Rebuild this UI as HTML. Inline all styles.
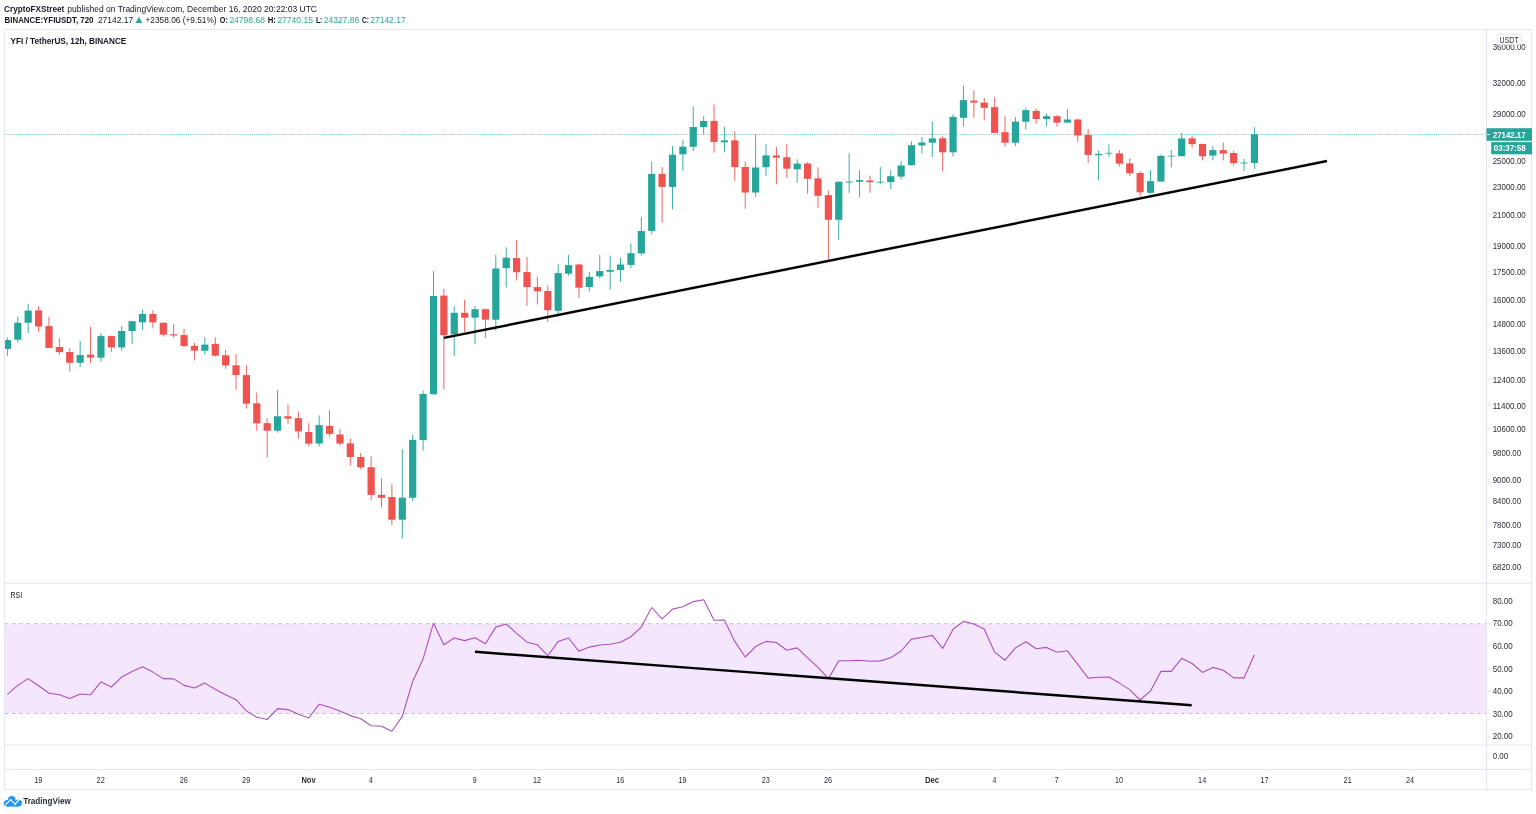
<!DOCTYPE html>
<html lang="en"><head><meta charset="utf-8"><title>YFI / TetherUS, 12h, BINANCE</title>
<style>html,body{margin:0;padding:0;background:#fff;}body{width:1536px;height:814px;overflow:hidden;}svg{display:block;font-family:'Liberation Sans', sans-serif;}</style>
</head><body>
<svg width="1536" height="814" viewBox="0 0 1536 814">
<rect x="0" y="0" width="1536" height="814" fill="#ffffff"/>
<g id="header">
<text x="4.1" y="11.8" font-size="8.6" font-weight="bold" fill="#131722" text-anchor="start" textLength="60.2" lengthAdjust="spacingAndGlyphs">CryptoFXStreet</text>
<text x="67.3" y="11.8" font-size="8.6" font-weight="normal" fill="#131722" text-anchor="start" textLength="249.7" lengthAdjust="spacingAndGlyphs">published on TradingView.com, December 16, 2020 20:22:03 UTC</text>
<text x="4.6" y="22.9" font-size="8.6" font-weight="bold" fill="#131722" text-anchor="start" textLength="88.8" lengthAdjust="spacingAndGlyphs">BINANCE:YFIUSDT, 720</text>
<text x="97.9" y="22.9" font-size="8.6" font-weight="normal" fill="#131722" text-anchor="start" textLength="35.4" lengthAdjust="spacingAndGlyphs">27142.17</text>
<path d="M135.6 22.9 L142.2 22.9 L138.9 16.7 Z" fill="#26a69a"/>
<text x="145.5" y="22.9" font-size="8.6" font-weight="normal" fill="#131722" text-anchor="start" textLength="71.1" lengthAdjust="spacingAndGlyphs">+2358.06 (+9.51%)</text>
<text x="219.8" y="22.9" font-size="8.6" font-weight="bold" fill="#131722" text-anchor="start" textLength="8.0" lengthAdjust="spacingAndGlyphs">O:</text>
<text x="229.4" y="22.9" font-size="8.6" font-weight="normal" fill="#26a69a" text-anchor="start" textLength="35.5" lengthAdjust="spacingAndGlyphs">24798.68</text>
<text x="267.7" y="22.9" font-size="8.6" font-weight="bold" fill="#131722" text-anchor="start" textLength="8.2" lengthAdjust="spacingAndGlyphs">H:</text>
<text x="277.4" y="22.9" font-size="8.6" font-weight="normal" fill="#26a69a" text-anchor="start" textLength="35.5" lengthAdjust="spacingAndGlyphs">27740.15</text>
<text x="315.9" y="22.9" font-size="8.6" font-weight="bold" fill="#131722" text-anchor="start" textLength="6.5" lengthAdjust="spacingAndGlyphs">L:</text>
<text x="323.7" y="22.9" font-size="8.6" font-weight="normal" fill="#26a69a" text-anchor="start" textLength="35.5" lengthAdjust="spacingAndGlyphs">24327.86</text>
<text x="361.9" y="22.9" font-size="8.6" font-weight="bold" fill="#131722" text-anchor="start" textLength="7.0" lengthAdjust="spacingAndGlyphs">C:</text>
<text x="370.2" y="22.9" font-size="8.6" font-weight="normal" fill="#26a69a" text-anchor="start" textLength="35.5" lengthAdjust="spacingAndGlyphs">27142.17</text>
</g>
<rect x="4.5" y="623.7" width="1482.0" height="89.79999999999995" fill="#f4e6fd"/>
<path d="M4.5 623.7 H1486.5 M4.5 713.5 H1486.5" stroke="#c4bdc9" stroke-width="1" stroke-dasharray="3.4 4" fill="none"/>
<g fill="none" stroke="#e4e7ef" stroke-width="1">
<rect x="4.5" y="29.5" width="1527.0" height="760.0"/>
<path d="M1486.5 29.5 V789.5"/>
<path d="M4.5 583.3 H1531.5"/>
<path d="M4.5 745 H1531.5"/>
<path d="M4.5 769.5 H1531.5"/>
</g>
<path d="M4.5 134.5 H1486.5" stroke="#26a69a" stroke-width="1" stroke-dasharray="0.975 0.975" opacity="0.6" fill="none"/>
<g id="candles">
<path d="M7.40 337.5 V355.8" stroke="#26a69a" stroke-width="0.9"/>
<rect x="5.00" y="340.1" width="6.00" height="8.8" fill="#26a69a"/>
<path d="M17.79 316.7 V342.7" stroke="#26a69a" stroke-width="0.9"/>
<rect x="14.19" y="322.8" width="7.20" height="16.9" fill="#26a69a"/>
<path d="M28.18 303.7 V333.0" stroke="#26a69a" stroke-width="0.9"/>
<rect x="24.58" y="310.6" width="7.20" height="12.2" fill="#26a69a"/>
<path d="M38.58 306.3 V331.9" stroke="#ef5350" stroke-width="0.9"/>
<rect x="34.98" y="310.4" width="7.20" height="16.1" fill="#ef5350"/>
<path d="M48.97 316.7 V347.9" stroke="#ef5350" stroke-width="0.9"/>
<rect x="45.37" y="326.1" width="7.20" height="21.8" fill="#ef5350"/>
<path d="M59.36 338.2 V354.7" stroke="#ef5350" stroke-width="0.9"/>
<rect x="55.76" y="347.0" width="7.20" height="5.1" fill="#ef5350"/>
<path d="M69.75 347.9 V371.4" stroke="#ef5350" stroke-width="0.9"/>
<rect x="66.15" y="352.0" width="7.20" height="10.8" fill="#ef5350"/>
<path d="M80.14 341.0 V367.1" stroke="#26a69a" stroke-width="0.9"/>
<rect x="76.54" y="355.1" width="7.20" height="7.7" fill="#26a69a"/>
<path d="M90.54 327.0 V362.9" stroke="#ef5350" stroke-width="0.9"/>
<rect x="86.94" y="354.6" width="7.20" height="3.0" fill="#ef5350"/>
<path d="M100.93 333.0 V361.6" stroke="#26a69a" stroke-width="0.9"/>
<rect x="97.33" y="336.1" width="7.20" height="21.6" fill="#26a69a"/>
<path d="M111.32 335.6 V352.2" stroke="#ef5350" stroke-width="0.9"/>
<rect x="107.72" y="336.1" width="7.20" height="11.3" fill="#ef5350"/>
<path d="M121.71 326.2 V350.7" stroke="#26a69a" stroke-width="0.9"/>
<rect x="118.11" y="331.0" width="7.20" height="16.4" fill="#26a69a"/>
<path d="M132.10 320.9 V344.0" stroke="#26a69a" stroke-width="0.9"/>
<rect x="128.50" y="321.2" width="7.20" height="9.9" fill="#26a69a"/>
<path d="M142.50 309.9 V329.7" stroke="#26a69a" stroke-width="0.9"/>
<rect x="138.90" y="314.0" width="7.20" height="8.3" fill="#26a69a"/>
<path d="M152.89 310.4 V327.8" stroke="#ef5350" stroke-width="0.9"/>
<rect x="149.29" y="314.0" width="7.20" height="8.3" fill="#ef5350"/>
<path d="M163.28 322.3 V336.5" stroke="#ef5350" stroke-width="0.9"/>
<rect x="159.68" y="322.8" width="7.20" height="11.9" fill="#ef5350"/>
<path d="M173.67 324.1 V337.9" stroke="#ef5350" stroke-width="0.9"/>
<rect x="170.07" y="334.3" width="7.20" height="1.2" fill="#ef5350"/>
<path d="M184.06 328.8 V347.3" stroke="#ef5350" stroke-width="0.9"/>
<rect x="180.46" y="335.1" width="7.20" height="10.9" fill="#ef5350"/>
<path d="M194.46 343.0 V360.5" stroke="#ef5350" stroke-width="0.9"/>
<rect x="190.86" y="345.9" width="7.20" height="4.8" fill="#ef5350"/>
<path d="M204.85 337.2 V354.7" stroke="#26a69a" stroke-width="0.9"/>
<rect x="201.25" y="344.6" width="7.20" height="6.1" fill="#26a69a"/>
<path d="M215.24 337.2 V356.7" stroke="#ef5350" stroke-width="0.9"/>
<rect x="211.64" y="343.9" width="7.20" height="11.8" fill="#ef5350"/>
<path d="M225.63 349.9 V368.8" stroke="#ef5350" stroke-width="0.9"/>
<rect x="222.03" y="355.3" width="7.20" height="10.2" fill="#ef5350"/>
<path d="M236.02 354.1 V389.6" stroke="#ef5350" stroke-width="0.9"/>
<rect x="232.42" y="365.3" width="7.20" height="9.8" fill="#ef5350"/>
<path d="M246.42 365.2 V408.5" stroke="#ef5350" stroke-width="0.9"/>
<rect x="242.82" y="375.1" width="7.20" height="28.6" fill="#ef5350"/>
<path d="M256.81 392.5 V430.9" stroke="#ef5350" stroke-width="0.9"/>
<rect x="253.21" y="403.3" width="7.20" height="20.1" fill="#ef5350"/>
<path d="M267.20 418.2 V457.7" stroke="#ef5350" stroke-width="0.9"/>
<rect x="263.60" y="423.2" width="7.20" height="7.5" fill="#ef5350"/>
<path d="M277.59 389.9 V432.6" stroke="#26a69a" stroke-width="0.9"/>
<rect x="273.99" y="416.3" width="7.20" height="14.4" fill="#26a69a"/>
<path d="M287.98 404.8 V423.8" stroke="#ef5350" stroke-width="0.9"/>
<rect x="284.38" y="416.3" width="7.20" height="2.3" fill="#ef5350"/>
<path d="M298.38 411.5 V438.8" stroke="#ef5350" stroke-width="0.9"/>
<rect x="294.78" y="418.2" width="7.20" height="13.2" fill="#ef5350"/>
<path d="M308.77 423.2 V446.2" stroke="#ef5350" stroke-width="0.9"/>
<rect x="305.17" y="432.0" width="7.20" height="11.6" fill="#ef5350"/>
<path d="M319.16 415.4 V446.6" stroke="#26a69a" stroke-width="0.9"/>
<rect x="315.56" y="425.1" width="7.20" height="18.5" fill="#26a69a"/>
<path d="M329.55 410.2 V436.7" stroke="#ef5350" stroke-width="0.9"/>
<rect x="325.95" y="425.9" width="7.20" height="8.0" fill="#ef5350"/>
<path d="M339.94 429.3 V445.6" stroke="#ef5350" stroke-width="0.9"/>
<rect x="336.34" y="434.5" width="7.20" height="9.1" fill="#ef5350"/>
<path d="M350.34 438.7 V465.5" stroke="#ef5350" stroke-width="0.9"/>
<rect x="346.74" y="443.4" width="7.20" height="13.6" fill="#ef5350"/>
<path d="M360.73 453.0 V469.4" stroke="#ef5350" stroke-width="0.9"/>
<rect x="357.13" y="457.0" width="7.20" height="10.3" fill="#ef5350"/>
<path d="M371.12 456.2 V500.6" stroke="#ef5350" stroke-width="0.9"/>
<rect x="367.52" y="467.2" width="7.20" height="27.7" fill="#ef5350"/>
<path d="M381.51 478.4 V507.3" stroke="#ef5350" stroke-width="0.9"/>
<rect x="377.91" y="494.9" width="7.20" height="2.9" fill="#ef5350"/>
<path d="M391.90 484.2 V524.9" stroke="#ef5350" stroke-width="0.9"/>
<rect x="388.30" y="497.0" width="7.20" height="22.7" fill="#ef5350"/>
<path d="M402.30 449.1 V538.8" stroke="#26a69a" stroke-width="0.9"/>
<rect x="398.70" y="497.7" width="7.20" height="22.0" fill="#26a69a"/>
<path d="M412.69 434.6 V501.3" stroke="#26a69a" stroke-width="0.9"/>
<rect x="409.09" y="439.9" width="7.20" height="57.9" fill="#26a69a"/>
<path d="M423.08 390.6 V450.5" stroke="#26a69a" stroke-width="0.9"/>
<rect x="419.48" y="394.0" width="7.20" height="46.1" fill="#26a69a"/>
<path d="M433.47 271.1 V394.3" stroke="#26a69a" stroke-width="0.9"/>
<rect x="429.87" y="296.0" width="7.20" height="98.3" fill="#26a69a"/>
<path d="M443.86 288.8 V389.5" stroke="#ef5350" stroke-width="0.9"/>
<rect x="440.26" y="295.6" width="7.20" height="39.7" fill="#ef5350"/>
<path d="M454.26 306.3 V355.9" stroke="#26a69a" stroke-width="0.9"/>
<rect x="450.66" y="312.8" width="7.20" height="21.6" fill="#26a69a"/>
<path d="M464.65 299.7 V332.0" stroke="#ef5350" stroke-width="0.9"/>
<rect x="461.05" y="312.8" width="7.20" height="4.9" fill="#ef5350"/>
<path d="M475.04 306.0 V344.0" stroke="#26a69a" stroke-width="0.9"/>
<rect x="471.44" y="309.2" width="7.20" height="8.5" fill="#26a69a"/>
<path d="M485.43 308.6 V338.2" stroke="#ef5350" stroke-width="0.9"/>
<rect x="481.83" y="309.2" width="7.20" height="10.5" fill="#ef5350"/>
<path d="M495.82 254.8 V330.7" stroke="#26a69a" stroke-width="0.9"/>
<rect x="492.22" y="268.5" width="7.20" height="51.2" fill="#26a69a"/>
<path d="M506.22 247.3 V287.4" stroke="#26a69a" stroke-width="0.9"/>
<rect x="502.62" y="257.7" width="7.20" height="10.4" fill="#26a69a"/>
<path d="M516.61 239.9 V280.5" stroke="#ef5350" stroke-width="0.9"/>
<rect x="513.01" y="258.1" width="7.20" height="14.1" fill="#ef5350"/>
<path d="M527.00 257.1 V305.7" stroke="#ef5350" stroke-width="0.9"/>
<rect x="523.40" y="272.1" width="7.20" height="14.9" fill="#ef5350"/>
<path d="M537.39 276.7 V304.4" stroke="#ef5350" stroke-width="0.9"/>
<rect x="533.79" y="287.1" width="7.20" height="4.2" fill="#ef5350"/>
<path d="M547.78 285.2 V321.9" stroke="#ef5350" stroke-width="0.9"/>
<rect x="544.18" y="291.0" width="7.20" height="19.2" fill="#ef5350"/>
<path d="M558.18 264.2 V316.7" stroke="#26a69a" stroke-width="0.9"/>
<rect x="554.58" y="273.1" width="7.20" height="37.7" fill="#26a69a"/>
<path d="M568.57 254.9 V275.9" stroke="#26a69a" stroke-width="0.9"/>
<rect x="564.97" y="265.1" width="7.20" height="8.6" fill="#26a69a"/>
<path d="M578.96 264.0 V297.9" stroke="#ef5350" stroke-width="0.9"/>
<rect x="575.36" y="264.5" width="7.20" height="23.2" fill="#ef5350"/>
<path d="M589.35 272.0 V291.3" stroke="#26a69a" stroke-width="0.9"/>
<rect x="585.75" y="276.8" width="7.20" height="10.2" fill="#26a69a"/>
<path d="M599.74 254.8 V278.5" stroke="#26a69a" stroke-width="0.9"/>
<rect x="596.14" y="271.1" width="7.20" height="5.2" fill="#26a69a"/>
<path d="M610.14 255.5 V289.6" stroke="#26a69a" stroke-width="0.9"/>
<rect x="606.54" y="270.0" width="7.20" height="1.8" fill="#26a69a"/>
<path d="M620.53 257.7 V281.8" stroke="#26a69a" stroke-width="0.9"/>
<rect x="616.93" y="264.5" width="7.20" height="5.6" fill="#26a69a"/>
<path d="M630.92 243.4 V268.1" stroke="#26a69a" stroke-width="0.9"/>
<rect x="627.32" y="253.2" width="7.20" height="11.7" fill="#26a69a"/>
<path d="M641.31 217.1 V255.5" stroke="#26a69a" stroke-width="0.9"/>
<rect x="637.71" y="231.1" width="7.20" height="22.3" fill="#26a69a"/>
<path d="M651.70 161.3 V234.6" stroke="#26a69a" stroke-width="0.9"/>
<rect x="648.10" y="173.9" width="7.20" height="57.0" fill="#26a69a"/>
<path d="M662.10 167.0 V222.2" stroke="#ef5350" stroke-width="0.9"/>
<rect x="658.50" y="173.9" width="7.20" height="13.0" fill="#ef5350"/>
<path d="M672.49 145.9 V209.4" stroke="#26a69a" stroke-width="0.9"/>
<rect x="668.89" y="154.7" width="7.20" height="32.2" fill="#26a69a"/>
<path d="M682.88 140.2 V170.8" stroke="#26a69a" stroke-width="0.9"/>
<rect x="679.28" y="146.7" width="7.20" height="7.6" fill="#26a69a"/>
<path d="M693.27 106.5 V151.0" stroke="#26a69a" stroke-width="0.9"/>
<rect x="689.67" y="127.0" width="7.20" height="19.8" fill="#26a69a"/>
<path d="M703.66 116.0 V134.1" stroke="#26a69a" stroke-width="0.9"/>
<rect x="700.06" y="120.9" width="7.20" height="6.1" fill="#26a69a"/>
<path d="M714.06 104.5 V152.7" stroke="#ef5350" stroke-width="0.9"/>
<rect x="710.46" y="120.9" width="7.20" height="21.0" fill="#ef5350"/>
<path d="M724.45 126.9 V152.3" stroke="#26a69a" stroke-width="0.9"/>
<rect x="720.85" y="140.4" width="7.20" height="1.9" fill="#26a69a"/>
<path d="M734.84 131.6 V180.8" stroke="#ef5350" stroke-width="0.9"/>
<rect x="731.24" y="140.4" width="7.20" height="26.7" fill="#ef5350"/>
<path d="M745.23 161.3 V208.8" stroke="#ef5350" stroke-width="0.9"/>
<rect x="741.63" y="167.0" width="7.20" height="25.5" fill="#ef5350"/>
<path d="M755.62 134.2 V196.7" stroke="#26a69a" stroke-width="0.9"/>
<rect x="752.02" y="167.5" width="7.20" height="25.0" fill="#26a69a"/>
<path d="M766.02 143.9 V176.0" stroke="#26a69a" stroke-width="0.9"/>
<rect x="762.42" y="155.4" width="7.20" height="11.8" fill="#26a69a"/>
<path d="M776.41 146.9 V184.2" stroke="#ef5350" stroke-width="0.9"/>
<rect x="772.81" y="155.4" width="7.20" height="2.3" fill="#ef5350"/>
<path d="M786.80 143.9 V177.7" stroke="#ef5350" stroke-width="0.9"/>
<rect x="783.20" y="157.3" width="7.20" height="11.4" fill="#ef5350"/>
<path d="M797.19 159.3 V182.9" stroke="#26a69a" stroke-width="0.9"/>
<rect x="793.59" y="163.6" width="7.20" height="5.7" fill="#26a69a"/>
<path d="M807.58 162.2 V193.8" stroke="#ef5350" stroke-width="0.9"/>
<rect x="803.98" y="163.5" width="7.20" height="15.3" fill="#ef5350"/>
<path d="M817.98 167.1 V207.9" stroke="#ef5350" stroke-width="0.9"/>
<rect x="814.38" y="178.4" width="7.20" height="17.4" fill="#ef5350"/>
<path d="M828.37 190.5 V259.4" stroke="#ef5350" stroke-width="0.9"/>
<rect x="824.77" y="195.2" width="7.20" height="24.6" fill="#ef5350"/>
<path d="M838.76 181.4 V239.6" stroke="#26a69a" stroke-width="0.9"/>
<rect x="835.16" y="181.8" width="7.20" height="38.0" fill="#26a69a"/>
<path d="M849.15 153.2 V192.9" stroke="#26a69a" stroke-width="0.9"/>
<rect x="845.55" y="181.3" width="7.20" height="1.6" fill="#26a69a" fill-opacity="0.6"/>
<path d="M859.54 170.1 V197.1" stroke="#26a69a" stroke-width="0.9"/>
<rect x="855.94" y="180.1" width="7.20" height="1.7" fill="#26a69a"/>
<path d="M869.94 175.6 V192.9" stroke="#ef5350" stroke-width="0.9"/>
<rect x="866.34" y="180.5" width="7.20" height="1.7" fill="#ef5350"/>
<path d="M880.33 167.1 V184.0" stroke="#26a69a" stroke-width="0.9"/>
<rect x="876.73" y="181.4" width="7.20" height="1.5" fill="#26a69a" fill-opacity="0.6"/>
<path d="M890.72 170.1 V188.9" stroke="#26a69a" stroke-width="0.9"/>
<rect x="887.12" y="176.2" width="7.20" height="5.9" fill="#26a69a"/>
<path d="M901.11 160.9 V179.5" stroke="#26a69a" stroke-width="0.9"/>
<rect x="897.51" y="165.5" width="7.20" height="11.1" fill="#26a69a"/>
<path d="M911.50 141.3 V165.2" stroke="#26a69a" stroke-width="0.9"/>
<rect x="907.90" y="145.2" width="7.20" height="20.0" fill="#26a69a"/>
<path d="M921.90 137.1 V153.5" stroke="#26a69a" stroke-width="0.9"/>
<rect x="918.30" y="142.5" width="7.20" height="3.0" fill="#26a69a"/>
<path d="M932.29 121.4 V157.0" stroke="#26a69a" stroke-width="0.9"/>
<rect x="928.69" y="138.4" width="7.20" height="4.3" fill="#26a69a"/>
<path d="M942.68 136.4 V171.3" stroke="#ef5350" stroke-width="0.9"/>
<rect x="939.08" y="138.3" width="7.20" height="14.0" fill="#ef5350"/>
<path d="M953.07 114.3 V156.5" stroke="#26a69a" stroke-width="0.9"/>
<rect x="949.47" y="116.9" width="7.20" height="35.4" fill="#26a69a"/>
<path d="M963.46 85.6 V126.6" stroke="#26a69a" stroke-width="0.9"/>
<rect x="959.86" y="100.1" width="7.20" height="17.7" fill="#26a69a"/>
<path d="M973.86 90.2 V117.8" stroke="#ef5350" stroke-width="0.9"/>
<rect x="970.26" y="100.6" width="7.20" height="2.0" fill="#ef5350"/>
<path d="M984.25 98.0 V120.5" stroke="#ef5350" stroke-width="0.9"/>
<rect x="980.65" y="102.6" width="7.20" height="5.2" fill="#ef5350"/>
<path d="M994.64 97.1 V132.9" stroke="#ef5350" stroke-width="0.9"/>
<rect x="991.04" y="107.2" width="7.20" height="25.7" fill="#ef5350"/>
<path d="M1005.03 116.0 V146.8" stroke="#ef5350" stroke-width="0.9"/>
<rect x="1001.43" y="132.2" width="7.20" height="10.5" fill="#ef5350"/>
<path d="M1015.42 117.1 V146.2" stroke="#26a69a" stroke-width="0.9"/>
<rect x="1011.82" y="121.7" width="7.20" height="21.0" fill="#26a69a"/>
<path d="M1025.82 107.8 V129.2" stroke="#26a69a" stroke-width="0.9"/>
<rect x="1022.22" y="110.1" width="7.20" height="11.6" fill="#26a69a"/>
<path d="M1036.21 108.5 V123.6" stroke="#ef5350" stroke-width="0.9"/>
<rect x="1032.61" y="110.9" width="7.20" height="8.1" fill="#ef5350"/>
<path d="M1046.60 113.4 V126.6" stroke="#26a69a" stroke-width="0.9"/>
<rect x="1043.00" y="116.2" width="7.20" height="2.9" fill="#26a69a"/>
<path d="M1056.99 115.3 V126.6" stroke="#ef5350" stroke-width="0.9"/>
<rect x="1053.39" y="116.2" width="7.20" height="6.4" fill="#ef5350"/>
<path d="M1067.38 109.1 V122.6" stroke="#26a69a" stroke-width="0.9"/>
<rect x="1063.78" y="119.5" width="7.20" height="3.1" fill="#26a69a"/>
<path d="M1077.78 118.8 V141.6" stroke="#ef5350" stroke-width="0.9"/>
<rect x="1074.18" y="119.5" width="7.20" height="16.0" fill="#ef5350"/>
<path d="M1088.17 129.1 V162.6" stroke="#ef5350" stroke-width="0.9"/>
<rect x="1084.57" y="135.0" width="7.20" height="19.9" fill="#ef5350"/>
<path d="M1098.56 150.6 V180.3" stroke="#26a69a" stroke-width="0.9"/>
<rect x="1094.96" y="153.9" width="7.20" height="1.4" fill="#26a69a"/>
<path d="M1108.95 144.5 V156.9" stroke="#26a69a" stroke-width="0.9"/>
<rect x="1105.35" y="152.7" width="7.20" height="1.3" fill="#26a69a" fill-opacity="0.6"/>
<path d="M1119.34 150.0 V166.4" stroke="#ef5350" stroke-width="0.9"/>
<rect x="1115.74" y="153.4" width="7.20" height="10.2" fill="#ef5350"/>
<path d="M1129.74 158.2 V175.8" stroke="#ef5350" stroke-width="0.9"/>
<rect x="1126.14" y="163.4" width="7.20" height="9.9" fill="#ef5350"/>
<path d="M1140.13 171.2 V196.6" stroke="#ef5350" stroke-width="0.9"/>
<rect x="1136.53" y="173.0" width="7.20" height="19.3" fill="#ef5350"/>
<path d="M1150.52 170.2 V194.0" stroke="#26a69a" stroke-width="0.9"/>
<rect x="1146.92" y="181.1" width="7.20" height="11.7" fill="#26a69a"/>
<path d="M1160.91 154.7 V181.6" stroke="#26a69a" stroke-width="0.9"/>
<rect x="1157.31" y="155.8" width="7.20" height="25.8" fill="#26a69a"/>
<path d="M1171.30 150.0 V167.3" stroke="#26a69a" stroke-width="0.9"/>
<rect x="1167.70" y="155.6" width="7.20" height="1.3" fill="#26a69a" fill-opacity="0.6"/>
<path d="M1181.70 133.0 V156.2" stroke="#26a69a" stroke-width="0.9"/>
<rect x="1178.10" y="138.4" width="7.20" height="17.8" fill="#26a69a"/>
<path d="M1192.09 135.8 V148.2" stroke="#ef5350" stroke-width="0.9"/>
<rect x="1188.49" y="138.4" width="7.20" height="5.7" fill="#ef5350"/>
<path d="M1202.48 143.6 V160.4" stroke="#ef5350" stroke-width="0.9"/>
<rect x="1198.88" y="144.0" width="7.20" height="12.2" fill="#ef5350"/>
<path d="M1212.87 146.1 V160.4" stroke="#26a69a" stroke-width="0.9"/>
<rect x="1209.27" y="150.1" width="7.20" height="5.5" fill="#26a69a"/>
<path d="M1223.26 142.6 V160.4" stroke="#ef5350" stroke-width="0.9"/>
<rect x="1219.66" y="150.1" width="7.20" height="3.5" fill="#ef5350"/>
<path d="M1233.66 150.8 V165.6" stroke="#ef5350" stroke-width="0.9"/>
<rect x="1230.06" y="153.0" width="7.20" height="10.1" fill="#ef5350"/>
<path d="M1244.05 158.8 V171.2" stroke="#26a69a" stroke-width="0.9"/>
<rect x="1240.45" y="162.3" width="7.20" height="1.5" fill="#26a69a" fill-opacity="0.6"/>
<path d="M1254.44 127.3 V169.2" stroke="#26a69a" stroke-width="0.9"/>
<rect x="1250.84" y="134.3" width="7.20" height="28.7" fill="#26a69a"/>
</g>
<path d="M443.8 337.9 L1327 161.0" stroke="#000" stroke-width="2.45" fill="none"/>
<polyline points="7.4,694.3 17.8,685.4 28.2,678.6 38.6,685.7 49.0,693.2 59.4,694.8 69.8,698.4 80.1,694.0 90.5,694.8 100.9,681.8 111.3,687.0 121.7,677.1 132.1,671.4 142.5,666.7 152.9,672.1 163.3,678.6 173.7,678.9 184.1,685.4 194.5,688.0 204.8,683.1 215.2,689.3 225.6,694.8 236.0,699.7 246.4,710.9 256.8,717.2 267.2,719.5 277.6,708.6 288.0,709.6 298.4,714.3 308.8,718.0 319.2,704.2 329.6,707.3 339.9,710.9 350.3,715.6 360.7,718.8 371.1,725.8 381.5,726.3 391.9,731.2 402.3,716.4 412.7,681.2 423.1,658.9 433.5,623.2 443.9,644.8 454.3,638.0 464.6,640.6 475.0,637.8 485.4,643.8 495.8,627.1 506.2,624.0 516.6,633.3 527.0,642.2 537.4,644.8 547.8,655.7 558.2,641.4 568.6,638.0 579.0,651.3 589.4,647.1 599.7,645.0 610.1,644.3 620.5,642.2 630.9,636.7 641.3,627.1 651.7,607.5 662.1,618.8 672.5,609.1 682.9,606.8 693.3,601.6 703.7,599.7 714.1,620.3 724.4,620.0 734.8,641.4 745.2,657.0 755.6,646.6 766.0,641.4 776.4,642.5 786.8,650.3 797.2,647.9 807.6,657.8 818.0,667.4 828.4,678.6 838.8,660.7 849.2,660.7 859.5,660.2 869.9,661.2 880.3,660.9 890.7,657.8 901.1,651.0 911.5,639.1 921.9,637.5 932.3,635.4 942.7,648.4 953.1,629.2 963.5,621.4 973.9,624.0 984.2,628.9 994.6,652.1 1005.0,660.2 1015.4,647.9 1025.8,641.7 1036.2,648.7 1046.6,647.4 1057.0,652.3 1067.4,650.8 1077.8,664.3 1088.2,678.1 1098.6,677.3 1109.0,677.1 1119.3,683.1 1129.7,689.6 1140.1,700.0 1150.5,690.9 1160.9,671.4 1171.3,671.4 1181.7,658.3 1192.1,663.5 1202.5,672.4 1212.9,667.4 1223.3,670.3 1233.7,677.9 1244.0,677.9 1254.4,654.7" fill="none" stroke="#a53db8" stroke-width="1.1" stroke-opacity="0.9" stroke-linejoin="round"/>
<path d="M475 651.8 L1191.7 705.3" stroke="#000" stroke-width="2.45" fill="none"/>
<text x="10.5" y="44.2" font-size="8.6" font-weight="bold" fill="#131722" text-anchor="start" textLength="115.8" lengthAdjust="spacingAndGlyphs">YFI / TetherUS, 12h, BINANCE</text>
<text x="10.4" y="598.0" font-size="9.4" font-weight="normal" fill="#131722" text-anchor="start" textLength="11.7" lengthAdjust="spacingAndGlyphs">RSI</text>
<g id="paxis">
<path d="M1487.0 46.1 h3.5" stroke="#e4e7ef" stroke-width="1"/>
<text x="1492.7" y="49.6" font-size="8.6" font-weight="normal" fill="#2a2d37" text-anchor="start" textLength="33.1" lengthAdjust="spacingAndGlyphs">36000.00</text>
<path d="M1487.0 82.9 h3.5" stroke="#e4e7ef" stroke-width="1"/>
<text x="1492.7" y="86.4" font-size="8.6" font-weight="normal" fill="#2a2d37" text-anchor="start" textLength="33.1" lengthAdjust="spacingAndGlyphs">32000.00</text>
<path d="M1487.0 113.7 h3.5" stroke="#e4e7ef" stroke-width="1"/>
<text x="1492.7" y="117.2" font-size="8.6" font-weight="normal" fill="#2a2d37" text-anchor="start" textLength="33.1" lengthAdjust="spacingAndGlyphs">29000.00</text>
<path d="M1487.0 160.1 h3.5" stroke="#e4e7ef" stroke-width="1"/>
<text x="1492.7" y="163.6" font-size="8.6" font-weight="normal" fill="#2a2d37" text-anchor="start" textLength="33.1" lengthAdjust="spacingAndGlyphs">25000.00</text>
<path d="M1487.0 186.1 h3.5" stroke="#e4e7ef" stroke-width="1"/>
<text x="1492.7" y="189.6" font-size="8.6" font-weight="normal" fill="#2a2d37" text-anchor="start" textLength="33.1" lengthAdjust="spacingAndGlyphs">23000.00</text>
<path d="M1487.0 214.6 h3.5" stroke="#e4e7ef" stroke-width="1"/>
<text x="1492.7" y="218.1" font-size="8.6" font-weight="normal" fill="#2a2d37" text-anchor="start" textLength="33.1" lengthAdjust="spacingAndGlyphs">21000.00</text>
<path d="M1487.0 245.9 h3.5" stroke="#e4e7ef" stroke-width="1"/>
<text x="1492.7" y="249.4" font-size="8.6" font-weight="normal" fill="#2a2d37" text-anchor="start" textLength="33.1" lengthAdjust="spacingAndGlyphs">19000.00</text>
<path d="M1487.0 271.6 h3.5" stroke="#e4e7ef" stroke-width="1"/>
<text x="1492.7" y="275.1" font-size="8.6" font-weight="normal" fill="#2a2d37" text-anchor="start" textLength="33.1" lengthAdjust="spacingAndGlyphs">17500.00</text>
<path d="M1487.0 299.6 h3.5" stroke="#e4e7ef" stroke-width="1"/>
<text x="1492.7" y="303.1" font-size="8.6" font-weight="normal" fill="#2a2d37" text-anchor="start" textLength="33.1" lengthAdjust="spacingAndGlyphs">16000.00</text>
<path d="M1487.0 323.9 h3.5" stroke="#e4e7ef" stroke-width="1"/>
<text x="1492.7" y="327.4" font-size="8.6" font-weight="normal" fill="#2a2d37" text-anchor="start" textLength="33.1" lengthAdjust="spacingAndGlyphs">14800.00</text>
<path d="M1487.0 350.3 h3.5" stroke="#e4e7ef" stroke-width="1"/>
<text x="1492.7" y="353.8" font-size="8.6" font-weight="normal" fill="#2a2d37" text-anchor="start" textLength="33.1" lengthAdjust="spacingAndGlyphs">13600.00</text>
<path d="M1487.0 379.2 h3.5" stroke="#e4e7ef" stroke-width="1"/>
<text x="1492.7" y="382.7" font-size="8.6" font-weight="normal" fill="#2a2d37" text-anchor="start" textLength="33.1" lengthAdjust="spacingAndGlyphs">12400.00</text>
<path d="M1487.0 405.5 h3.5" stroke="#e4e7ef" stroke-width="1"/>
<text x="1492.7" y="409.0" font-size="8.6" font-weight="normal" fill="#2a2d37" text-anchor="start" textLength="33.1" lengthAdjust="spacingAndGlyphs">11400.00</text>
<path d="M1487.0 428.2 h3.5" stroke="#e4e7ef" stroke-width="1"/>
<text x="1492.7" y="431.7" font-size="8.6" font-weight="normal" fill="#2a2d37" text-anchor="start" textLength="33.1" lengthAdjust="spacingAndGlyphs">10600.00</text>
<path d="M1487.0 452.7 h3.5" stroke="#e4e7ef" stroke-width="1"/>
<text x="1492.7" y="456.2" font-size="8.6" font-weight="normal" fill="#2a2d37" text-anchor="start" textLength="28.4" lengthAdjust="spacingAndGlyphs">9800.00</text>
<path d="M1487.0 479.4 h3.5" stroke="#e4e7ef" stroke-width="1"/>
<text x="1492.7" y="482.9" font-size="8.6" font-weight="normal" fill="#2a2d37" text-anchor="start" textLength="28.4" lengthAdjust="spacingAndGlyphs">9000.00</text>
<path d="M1487.0 500.9 h3.5" stroke="#e4e7ef" stroke-width="1"/>
<text x="1492.7" y="504.4" font-size="8.6" font-weight="normal" fill="#2a2d37" text-anchor="start" textLength="28.4" lengthAdjust="spacingAndGlyphs">8400.00</text>
<path d="M1487.0 524.1 h3.5" stroke="#e4e7ef" stroke-width="1"/>
<text x="1492.7" y="527.6" font-size="8.6" font-weight="normal" fill="#2a2d37" text-anchor="start" textLength="28.4" lengthAdjust="spacingAndGlyphs">7800.00</text>
<path d="M1487.0 544.8 h3.5" stroke="#e4e7ef" stroke-width="1"/>
<text x="1492.7" y="548.3" font-size="8.6" font-weight="normal" fill="#2a2d37" text-anchor="start" textLength="28.4" lengthAdjust="spacingAndGlyphs">7300.00</text>
<path d="M1487.0 566.0 h3.5" stroke="#e4e7ef" stroke-width="1"/>
<text x="1492.7" y="569.5" font-size="8.6" font-weight="normal" fill="#2a2d37" text-anchor="start" textLength="28.4" lengthAdjust="spacingAndGlyphs">6820.00</text>
<path d="M1487.0 601.0 h3.5" stroke="#e4e7ef" stroke-width="1"/>
<text x="1492.7" y="603.7" font-size="8.6" font-weight="normal" fill="#2a2d37" text-anchor="start" textLength="20.0" lengthAdjust="spacingAndGlyphs">80.00</text>
<path d="M1487.0 623.7 h3.5" stroke="#e4e7ef" stroke-width="1"/>
<text x="1492.7" y="626.4" font-size="8.6" font-weight="normal" fill="#2a2d37" text-anchor="start" textLength="20.0" lengthAdjust="spacingAndGlyphs">70.00</text>
<path d="M1487.0 646.1 h3.5" stroke="#e4e7ef" stroke-width="1"/>
<text x="1492.7" y="648.8" font-size="8.6" font-weight="normal" fill="#2a2d37" text-anchor="start" textLength="20.0" lengthAdjust="spacingAndGlyphs">60.00</text>
<path d="M1487.0 668.8 h3.5" stroke="#e4e7ef" stroke-width="1"/>
<text x="1492.7" y="671.5" font-size="8.6" font-weight="normal" fill="#2a2d37" text-anchor="start" textLength="20.0" lengthAdjust="spacingAndGlyphs">50.00</text>
<path d="M1487.0 691.4 h3.5" stroke="#e4e7ef" stroke-width="1"/>
<text x="1492.7" y="694.1" font-size="8.6" font-weight="normal" fill="#2a2d37" text-anchor="start" textLength="20.0" lengthAdjust="spacingAndGlyphs">40.00</text>
<path d="M1487.0 713.8 h3.5" stroke="#e4e7ef" stroke-width="1"/>
<text x="1492.7" y="716.5" font-size="8.6" font-weight="normal" fill="#2a2d37" text-anchor="start" textLength="20.0" lengthAdjust="spacingAndGlyphs">30.00</text>
<path d="M1487.0 736.5 h3.5" stroke="#e4e7ef" stroke-width="1"/>
<text x="1492.7" y="739.2" font-size="8.6" font-weight="normal" fill="#2a2d37" text-anchor="start" textLength="20.0" lengthAdjust="spacingAndGlyphs">20.00</text>
<path d="M1487.0 756.5 h3.5" stroke="#e4e7ef" stroke-width="1"/>
<text x="1492.7" y="759.2" font-size="8.6" font-weight="normal" fill="#2a2d37" text-anchor="start" textLength="15.6" lengthAdjust="spacingAndGlyphs">0.00</text>
</g>
<rect x="1497.2" y="34.3" width="24" height="10" rx="1.5" fill="#fff" stroke="#e4e7ef" stroke-width="1"/>
<text x="1499.6" y="43.0" font-size="8.2" font-weight="normal" fill="#2a2d37" text-anchor="start" textLength="19.0" lengthAdjust="spacingAndGlyphs">USDT</text>
<rect x="1486.5" y="128.2" width="45.5" height="12.6" fill="#26a69a"/>
<path d="M1487.0 134.5 h3" stroke="#fff" stroke-width="1" opacity="0.8"/>
<text x="1492.9" y="137.8" font-size="8.6" font-weight="bold" fill="#ffffff" text-anchor="start" textLength="32.7" lengthAdjust="spacingAndGlyphs">27142.17</text>
<rect x="1491.2" y="142.1" width="40.799999999999955" height="12.2" fill="#26a69a"/>
<text x="1493.8" y="151.2" font-size="8.4" font-weight="bold" fill="#ffffff" text-anchor="start" textLength="31.8" lengthAdjust="spacingAndGlyphs">03:37:58</text>
<g id="taxis">
<path d="M38.6 770 v1.5" stroke="#e4e7ef" stroke-width="1"/>
<text x="34.2" y="782.7" font-size="9.4" font-weight="normal" fill="#2a2d37" text-anchor="start" textLength="8.1" lengthAdjust="spacingAndGlyphs">19</text>
<path d="M100.9 770 v1.5" stroke="#e4e7ef" stroke-width="1"/>
<text x="96.6" y="782.7" font-size="9.4" font-weight="normal" fill="#2a2d37" text-anchor="start" textLength="8.1" lengthAdjust="spacingAndGlyphs">22</text>
<path d="M184.1 770 v1.5" stroke="#e4e7ef" stroke-width="1"/>
<text x="179.7" y="782.7" font-size="9.4" font-weight="normal" fill="#2a2d37" text-anchor="start" textLength="8.1" lengthAdjust="spacingAndGlyphs">26</text>
<path d="M246.4 770 v1.5" stroke="#e4e7ef" stroke-width="1"/>
<text x="242.1" y="782.7" font-size="9.4" font-weight="normal" fill="#2a2d37" text-anchor="start" textLength="8.1" lengthAdjust="spacingAndGlyphs">29</text>
<path d="M308.8 770 v1.5" stroke="#e4e7ef" stroke-width="1"/>
<text x="301.4" y="782.7" font-size="8.8" font-weight="bold" fill="#2a2d37" text-anchor="start" textLength="14.2" lengthAdjust="spacingAndGlyphs">Nov</text>
<path d="M371.1 770 v1.5" stroke="#e4e7ef" stroke-width="1"/>
<text x="368.9" y="782.7" font-size="9.4" font-weight="normal" fill="#2a2d37" text-anchor="start" textLength="3.9000000000000004" lengthAdjust="spacingAndGlyphs">4</text>
<path d="M475.0 770 v1.5" stroke="#e4e7ef" stroke-width="1"/>
<text x="472.8" y="782.7" font-size="9.4" font-weight="normal" fill="#2a2d37" text-anchor="start" textLength="3.9000000000000004" lengthAdjust="spacingAndGlyphs">9</text>
<path d="M537.4 770 v1.5" stroke="#e4e7ef" stroke-width="1"/>
<text x="533.0" y="782.7" font-size="9.4" font-weight="normal" fill="#2a2d37" text-anchor="start" textLength="8.1" lengthAdjust="spacingAndGlyphs">12</text>
<path d="M620.5 770 v1.5" stroke="#e4e7ef" stroke-width="1"/>
<text x="616.2" y="782.7" font-size="9.4" font-weight="normal" fill="#2a2d37" text-anchor="start" textLength="8.1" lengthAdjust="spacingAndGlyphs">16</text>
<path d="M682.9 770 v1.5" stroke="#e4e7ef" stroke-width="1"/>
<text x="678.5" y="782.7" font-size="9.4" font-weight="normal" fill="#2a2d37" text-anchor="start" textLength="8.1" lengthAdjust="spacingAndGlyphs">19</text>
<path d="M766.0 770 v1.5" stroke="#e4e7ef" stroke-width="1"/>
<text x="761.7" y="782.7" font-size="9.4" font-weight="normal" fill="#2a2d37" text-anchor="start" textLength="8.1" lengthAdjust="spacingAndGlyphs">23</text>
<path d="M828.4 770 v1.5" stroke="#e4e7ef" stroke-width="1"/>
<text x="824.0" y="782.7" font-size="9.4" font-weight="normal" fill="#2a2d37" text-anchor="start" textLength="8.1" lengthAdjust="spacingAndGlyphs">26</text>
<path d="M932.3 770 v1.5" stroke="#e4e7ef" stroke-width="1"/>
<text x="924.9" y="782.7" font-size="8.8" font-weight="bold" fill="#2a2d37" text-anchor="start" textLength="14.2" lengthAdjust="spacingAndGlyphs">Dec</text>
<path d="M994.6 770 v1.5" stroke="#e4e7ef" stroke-width="1"/>
<text x="992.4" y="782.7" font-size="9.4" font-weight="normal" fill="#2a2d37" text-anchor="start" textLength="3.9000000000000004" lengthAdjust="spacingAndGlyphs">4</text>
<path d="M1057.0 770 v1.5" stroke="#e4e7ef" stroke-width="1"/>
<text x="1054.7" y="782.7" font-size="9.4" font-weight="normal" fill="#2a2d37" text-anchor="start" textLength="3.9000000000000004" lengthAdjust="spacingAndGlyphs">7</text>
<path d="M1119.3 770 v1.5" stroke="#e4e7ef" stroke-width="1"/>
<text x="1115.0" y="782.7" font-size="9.4" font-weight="normal" fill="#2a2d37" text-anchor="start" textLength="8.1" lengthAdjust="spacingAndGlyphs">10</text>
<path d="M1202.5 770 v1.5" stroke="#e4e7ef" stroke-width="1"/>
<text x="1198.1" y="782.7" font-size="9.4" font-weight="normal" fill="#2a2d37" text-anchor="start" textLength="8.1" lengthAdjust="spacingAndGlyphs">14</text>
<path d="M1264.8 770 v1.5" stroke="#e4e7ef" stroke-width="1"/>
<text x="1260.5" y="782.7" font-size="9.4" font-weight="normal" fill="#2a2d37" text-anchor="start" textLength="8.1" lengthAdjust="spacingAndGlyphs">17</text>
<path d="M1348.0 770 v1.5" stroke="#e4e7ef" stroke-width="1"/>
<text x="1343.6" y="782.7" font-size="9.4" font-weight="normal" fill="#2a2d37" text-anchor="start" textLength="8.1" lengthAdjust="spacingAndGlyphs">21</text>
<path d="M1410.3 770 v1.5" stroke="#e4e7ef" stroke-width="1"/>
<text x="1406.0" y="782.7" font-size="9.4" font-weight="normal" fill="#2a2d37" text-anchor="start" textLength="8.1" lengthAdjust="spacingAndGlyphs">24</text>
</g>
<g id="logo">
<g fill="#2196f3"><circle cx="7.2" cy="803.3" r="3.3"/><circle cx="11.8" cy="799.7" r="3.7"/><circle cx="18.4" cy="803.1" r="3.5"/><rect x="7.2" y="800.6" width="11.2" height="6"/></g>
<path d="M5.2 805.1 L10.7 799.7 L14.9 804.1 L19.3 799.5" fill="none" stroke="#fff" stroke-width="1.15" stroke-linejoin="round"/>
<circle cx="14.9" cy="804.1" r="1.0" fill="#fff"/>
<text x="23.2" y="804.1" font-size="8.4" font-weight="bold" fill="#2a2e39" text-anchor="start" textLength="47.6" lengthAdjust="spacingAndGlyphs">TradingView</text>
</g>
</svg>
</body></html>
